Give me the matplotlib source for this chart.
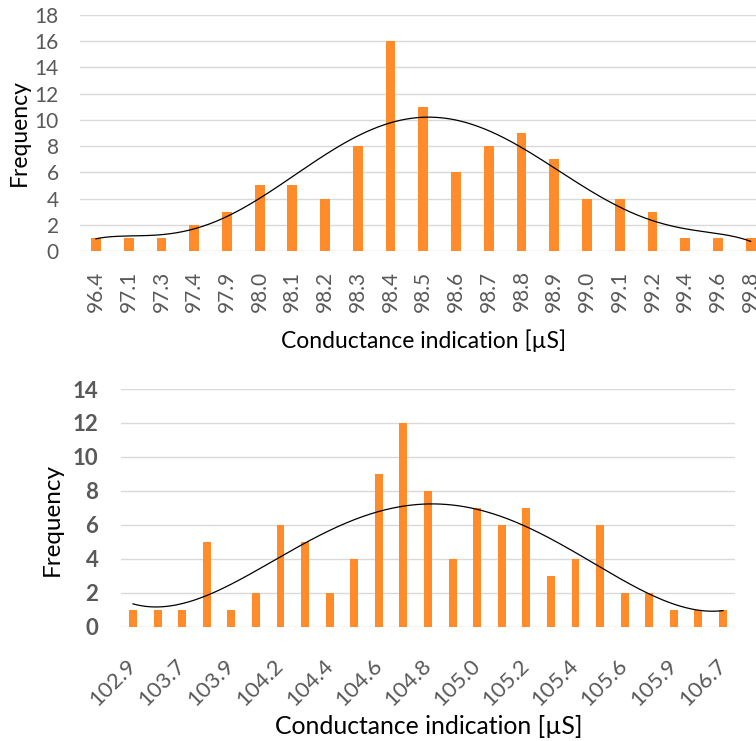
import numpy as np
import matplotlib
matplotlib.use("Agg")
import matplotlib.pyplot as plt

plt.rcParams['font.family'] = ['Lato', 'DejaVu Sans']

# ---- data ----
top_categories = ["96.4", "97.1", "97.3", "97.4", "97.9", "98.0", "98.1", "98.2", "98.3", "98.4",
                  "98.5", "98.6", "98.7", "98.8", "98.9", "99.0", "99.1", "99.2", "99.4", "99.6", "99.8"]
top_freq = [1, 1, 1, 2, 3, 5, 5, 4, 8, 16, 11, 6, 8, 9, 7, 4, 4, 3, 1, 1, 1]

bottom_categories = ["102.9", "103.1", "103.7", "103.8", "103.9", "104.1", "104.2", "104.3", "104.4",
                     "104.5", "104.6", "104.7", "104.8", "104.9", "105.0", "105.1", "105.2", "105.3",
                     "105.4", "105.5", "105.6", "105.7", "105.9", "106.1", "106.7"]
bottom_freq = [1, 1, 1, 5, 1, 2, 6, 5, 2, 4, 9, 12, 8, 4, 7, 6, 7, 3, 4, 6, 2, 2, 1, 1, 1]

top_yticks = [0, 2, 4, 6, 8, 10, 12, 14, 16, 18]
bottom_yticks = [0, 2, 4, 6, 8, 10, 12, 14]

BAR = '#FF8B2B'
GRID = '#D9D9D9'
TICK = '#595959'
W, H = 756, 741

fig = plt.figure(figsize=(W / 100, H / 100), dpi=100)


def ax_rect(left, right, top, bottom):
    return [left / W, 1 - bottom / H, (right - left) / W, (bottom - top) / H]


def style(ax, yticks, ylim):
    for s in ax.spines.values():
        s.set_visible(False)
    ax.set_ylim(*ylim)
    ax.set_yticks(yticks)
    ax.yaxis.grid(True, color=GRID, linewidth=1.0)
    ax.set_axisbelow(True)
    ax.tick_params(length=0)


def trend(ax, vals, order):
    x = np.arange(len(vals))
    c = np.polyfit(x, vals, order)
    xs = np.linspace(0, len(vals) - 1, 400)
    ax.plot(xs, np.polyval(c, xs), color='black', linewidth=0.9, zorder=3)


# ---- top chart ----
ax1 = fig.add_axes(ax_rect(79.6, 767.0, 15, 251))
x1 = np.arange(len(top_categories))
ax1.bar(x1, top_freq, width=0.3, color=BAR, zorder=2)
trend(ax1, top_freq, 6)
ax1.set_xlim(-0.5, len(top_categories) - 0.5)
style(ax1, top_yticks, (0, 18))
ax1.set_xticks(x1)
ax1.set_xticklabels(top_categories, rotation=90, ha='center', va='top')
ax1.tick_params(axis='x', pad=14, labelsize=15, labelcolor=TICK)
ax1.tick_params(axis='y', pad=15, labelsize=15, labelcolor=TICK)
ax1.set_xlabel("Conductance indication [µS]", fontsize=16.5, color='black', va='center')
ax1.xaxis.set_label_coords(0.5, -0.38)
ax1.set_ylabel("Frequency", fontsize=16.5, color='black', va='center')
ax1.yaxis.set_label_coords(-0.087, 0.5)

# ---- bottom chart ----
ax2 = fig.add_axes(ax_rect(120.7, 735.3, 389, 626.7))
x2 = np.arange(len(bottom_categories))
ax2.bar(x2, bottom_freq, width=0.32, color=BAR, zorder=2)
trend(ax2, bottom_freq, 4)
ax2.set_xlim(-0.5, len(bottom_categories) - 0.5)
style(ax2, bottom_yticks, (0, 14))
ax2.set_xticks(x2[::2])
ax2.set_xticklabels(bottom_categories[::2], rotation=45, ha='right', va='center',
                    rotation_mode='anchor')
ax2.tick_params(axis='x', pad=26, labelsize=16, labelcolor=TICK)
ax2.tick_params(axis='y', pad=16, labelsize=16, labelcolor=TICK)
for t in ax2.get_yticklabels():
    t.set_fontweight('bold')
ax2.set_xlabel("Conductance indication [µS]", fontsize=17.8, color='black', va='center')
ax2.xaxis.set_label_coords(0.5016, -0.42)
ax2.set_ylabel("Frequency", fontsize=17.5, color='black', va='center')
ax2.yaxis.set_label_coords(-0.112, 0.453)

fig.savefig("out.png", dpi=100)
